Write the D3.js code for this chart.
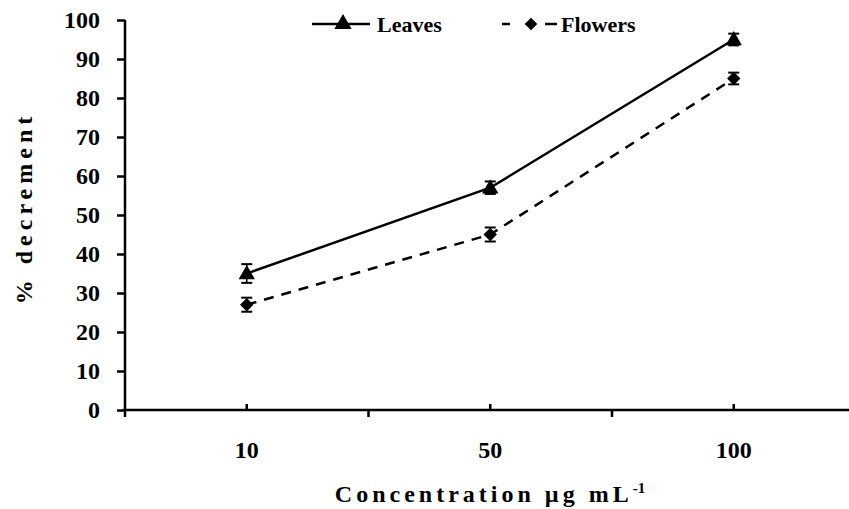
<!DOCTYPE html>
<html><head><meta charset="utf-8">
<script src="https://cdn.jsdelivr.net/npm/d3@7"></script>
<style>body{margin:0;background:#fff}svg{display:block}</style>
</head><body><svg id="c" width="849" height="509"></svg>
<script>
const categories = ["10", "50", "100"];
const leaves = [35, 57, 95];
const leavesErr = [2.4, 1.6, 1.5];
const flowers = [27, 45, 85];
const flowersErr = [1.8, 1.8, 1.5];
const yTicks = [0,10,20,30,40,50,60,70,80,90,100];
const seriesNames = ["Leaves", "Flowers"];

const svg = d3.select("#c");
const font = "'Liberation Serif','Times New Roman',serif";
const x = d3.scaleBand().domain(categories).range([125, 855.5]);
const y = d3.scaleLinear().domain([0, 100]).range([410, 20]);

// y axis
const ya = svg.append("g").attr("transform","translate(125,0)")
  .call(d3.axisLeft(y).tickValues(yTicks).tickSize(8).tickPadding(17));
ya.select(".domain").attr("stroke-width",2.5).attr("d","M0,20V411");
ya.selectAll(".tick line").attr("stroke-width",2.5);
ya.selectAll(".tick text").attr("font-family",font).attr("font-weight","bold").attr("font-size",24).attr("fill","#000");

// x axis
const xa = svg.append("g").attr("transform","translate(0,410)");
xa.append("line").attr("x1",123).attr("x2",849).attr("y1",0).attr("y2",0).attr("stroke","#000").attr("stroke-width",2.5);
const bounds = categories.map(c => x(c)).concat([x.range()[1]]);
xa.selectAll(".maj").data(bounds).join("line").attr("x1",d=>d).attr("x2",d=>d).attr("y1",0).attr("y2",7).attr("stroke","#000").attr("stroke-width",2.5);
xa.selectAll(".min").data(categories).join("line").attr("x1",d=>x(d)+x.bandwidth()/2).attr("x2",d=>x(d)+x.bandwidth()/2).attr("y1",0).attr("y2",-6).attr("stroke","#000").attr("stroke-width",2.5);
xa.selectAll(".lab").data(categories).join("text").attr("x",d=>x(d)+x.bandwidth()/2).attr("y",48)
  .attr("text-anchor","middle").attr("font-family",font).attr("font-weight","bold").attr("font-size",24).text(d=>d);

// titles
const xt = svg.append("text").attr("x",490).attr("y",502).attr("text-anchor","middle")
  .attr("font-family",font).attr("font-weight","bold").attr("font-size",24).attr("letter-spacing",4);
xt.append("tspan").text("Concentration µg mL");
xt.append("tspan").attr("dy",-9).attr("font-size",15).attr("letter-spacing",0).text("-1");
svg.append("text").attr("transform","translate(32,208) rotate(-90)").attr("text-anchor","middle")
  .attr("font-family",font).attr("font-weight","bold").attr("font-size",24).attr("letter-spacing",5).text("% decrement");

const cx = d => x(d) + x.bandwidth()/2;
const sq = d3.symbol().type(d3.symbolSquare);
function drawSeries(vals, errs, dash, shapeFn) {
  const line = d3.line().x((d,i)=>cx(categories[i])).y(d=>y(d));
  svg.append("path").datum(vals).attr("d",line).attr("fill","none").attr("stroke","#000").attr("stroke-width",2.5)
    .attr("stroke-dasharray",dash);
  const g = svg.append("g");
  vals.forEach((v,i)=>{
    const px = cx(categories[i]);
    g.append("line").attr("x1",px).attr("x2",px).attr("y1",y(v+errs[i])).attr("y2",y(v-errs[i])).attr("stroke","#000").attr("stroke-width",1.5);
    [v+errs[i], v-errs[i]].forEach(e=>g.append("line").attr("x1",px-5.5).attr("x2",px+5.5).attr("y1",y(e)).attr("y2",y(e)).attr("stroke","#000").attr("stroke-width",2));
    shapeFn(g, px, y(v));
  });
}
const tri = (g,px,py,s=115) => g.append("path").attr("d",d3.symbol().type(d3.symbolTriangle).size(s)()).attr("transform",`translate(${px},${py+1})`).attr("fill","#000");
const dia = (g,px,py,s=90) => g.append("path").attr("d",sq.size(s)()).attr("transform",`translate(${px},${py}) rotate(45)`).attr("fill","#000");
drawSeries(leaves, leavesErr, null, tri);
drawSeries(flowers, flowersErr, "10,8", dia);

// legend
const lg = svg.append("g");
lg.append("line").attr("x1",312).attr("x2",370).attr("y1",24).attr("y2",24).attr("stroke","#000").attr("stroke-width",2.5);
tri(lg, 343, 23, 130);
lg.append("text").attr("x",377).attr("y",32).attr("font-family",font).attr("font-weight","bold").attr("font-size",22).text(seriesNames[0]);
lg.append("line").attr("x1",502).attr("x2",510).attr("y1",24).attr("y2",24).attr("stroke","#000").attr("stroke-width",2.5);
lg.append("line").attr("x1",545).attr("x2",557).attr("y1",24).attr("y2",24).attr("stroke","#000").attr("stroke-width",2.5);
dia(lg, 531, 24, 80);
lg.append("text").attr("x",561).attr("y",32).attr("font-family",font).attr("font-weight","bold").attr("font-size",22).text(seriesNames[1]);
</script></body></html>
